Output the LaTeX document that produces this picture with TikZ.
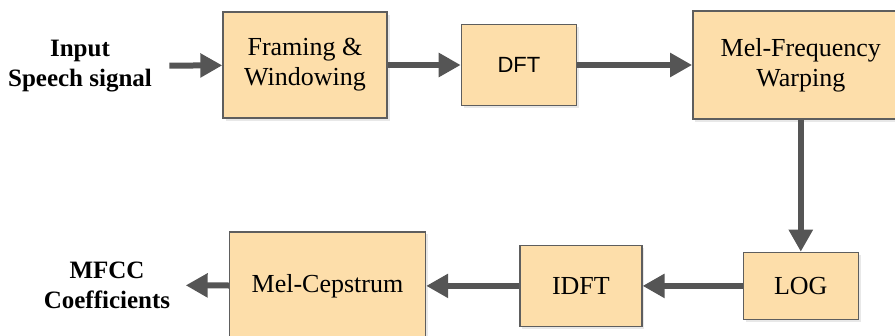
\documentclass[tikz,border=0pt]{standalone}
\usepackage{fontspec}
\setmainfont{Liberation Serif}
\newfontfamily\arialfont{Liberation Sans}
\usetikzlibrary{positioning, arrows.meta, shadows}
\definecolor{boxfill}{HTML}{FDDEAA}
\definecolor{boxline}{HTML}{5E5E5E}
\definecolor{flowgray}{HTML}{555555}
\tikzset{
  block/.style={draw=boxline, fill=boxfill, line width=1.4pt, align=center,
    font=\fontsize{26}{30}\selectfont,
    drop shadow={shadow xshift=2.5pt, shadow yshift=-2.5pt, fill=black!18}},
  ioText/.style={align=center, font=\fontsize{25}{30}\selectfont\bfseries},
  flow/.style={draw=flowgray, line width=6pt, -{Triangle[length=22pt, width=23pt]}},
}

\begin{document}
\begin{tikzpicture}[x=1pt, y=-1pt]
    \useasboundingbox (0,0) rectangle (895,335);
    % top row
    \node[block, minimum width=164pt, minimum height=106pt] (frame) at (305,65) {Framing \&\\Windowing};
    \node[block, minimum width=115pt, minimum height=81pt, right=73pt of frame, font=\fontsize{22}{26}\arialfont] (dft) {DFT};
    \node[block, minimum width=216pt, minimum height=108pt, right=115pt of dft] (mel) {Mel-Frequency\\Warping};
    % bottom row
    \node[block, minimum width=115pt, minimum height=67pt, below=132pt of mel] (log) {LOG};
    \node[block, minimum width=122pt, minimum height=81pt, left=100pt of log] (idft) {IDFT};
    \node[block, minimum width=196pt, minimum height=108pt, left=93pt of idft] (cep) {Mel-Cepstrum};
    % input and output
    \node[ioText] (input) at (80,66) {Input\\Speech signal};
    \node[ioText] (mfcc) at (107,285) {MFCC\\Coefficients};
    \draw[flow, shorten <=14pt] (input) -- (frame);
    \draw[flow] (frame) -- (dft);
    \draw[flow] (dft) -- (mel);
    \draw[flow] (mel) -- (log);
    \draw[flow] (log) -- (idft);
    \draw[flow] (idft) -- (cep);
    \draw[flow, shorten >=12pt] (cep) -- (mfcc);
  \end{tikzpicture}
\end{document}
